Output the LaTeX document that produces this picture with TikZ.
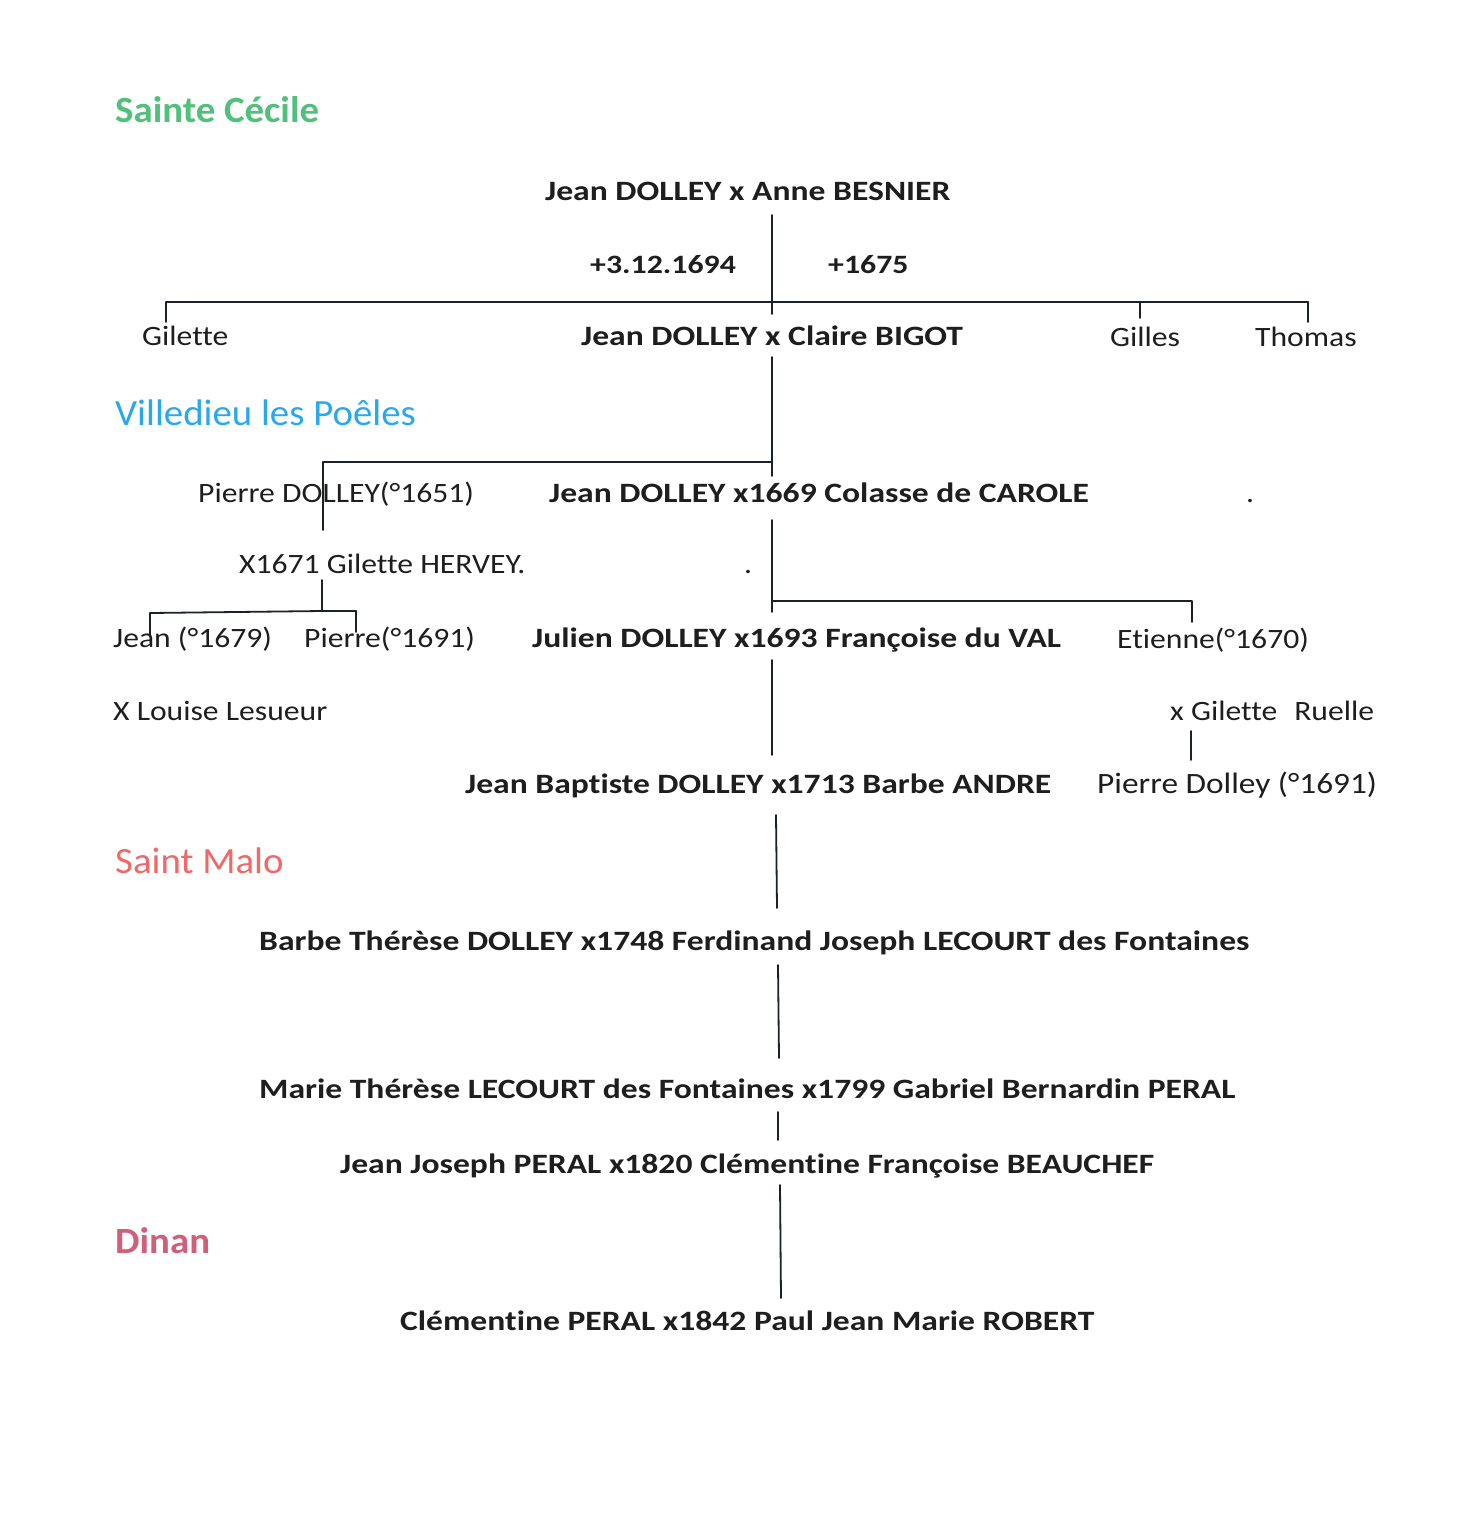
\documentclass[tikz,border=0pt]{standalone}
\usepackage{fontspec}
\setmainfont{Carlito}[FakeStretch=1.13, Ligatures=NoCommon]
\newfontfamily\couplefont{Carlito}[FakeStretch=1.2, Ligatures=NoCommon]
\newfontfamily\placefont{Carlito}[FakeStretch=1.05, Ligatures=NoCommon]
\usetikzlibrary{positioning,calc}
\definecolor{inkline}{RGB}{28,32,44}
\definecolor{inktext}{RGB}{30,30,30}
\definecolor{placegreen}{RGB}{80,192,122}
\definecolor{placeblue}{RGB}{42,168,236}
\definecolor{placered}{RGB}{240,104,104}
\definecolor{placepink}{RGB}{208,96,122}

\begin{document}
\begin{tikzpicture}[x=1pt, y=-1pt,
  person/.style={anchor=base west, inner sep=0pt, text=inktext, font=\fontsize{28}{33}\selectfont},
  couple/.style={person, font=\couplefont\fontsize{28}{33}\selectfont\bfseries},
  death/.style={person, font=\couplefont\fontsize{26.5}{31}\selectfont\bfseries},
  place/.style={anchor=base west, inner sep=0pt, font=\placefont\fontsize{37}{42}\selectfont},
  link/.style={draw=inkline, line width=1.8pt, line cap=round, line join=round},
  tick/.style={link, line width=1.5pt}]
\useasboundingbox (0,0) rectangle (1476,1527);

% places
\node[place, text=placegreen, font=\placefont\fontsize{37}{42}\selectfont\bfseries] (pSC) at (115,122) {Sainte Cécile};
\node[place, text=placeblue] (pVP) at (115,425) {Villedieu les Poêles};
\node[place, text=placered] (pSM) at (115,873) {Saint Malo};
\node[place, text=placepink, font=\placefont\fontsize{37}{42}\selectfont\bfseries] (pDI) at (115,1253) {Dinan};

% generation 1
\node[couple] (c1) at (545,200) {Jean DOLLEY x Anne BESNIER};
\node[death] (d1) at (590,273) {+3.12.1694};
\node[death] (d2) at (828,273) {+1675};
\coordinate (j1) at (772,302);

% generation 2
\node[person] (gil) at (142,345) {Gilette};
\node[couple] (c2) at (581,345) {Jean DOLLEY x Claire BIGOT};
\node[person] (gis) at (1110,346) {Gilles};
\node[person] (tho) at (1255,346) {Thomas};
\draw[link] (772,215) -- (j1);
\draw[link] (166,302) -- (j1) -- (1308,302);
\draw[tick] (166,302) -- (166,322);
\draw[tick] (1140,302) -- (1140,318);
\draw[tick] (1308,302) -- (1308,322);
\draw[tick] (j1) -- (772,314);

% generation 3
\coordinate (j2) at (772,462);
\node[person] (pie) at (198,502) {Pierre DOLLEY(°1651)};
\node[couple] (c3) at (549,502) {Jean DOLLEY x1669 Colasse de CAROLE};
\node[person] (pieX) at (239,573) {X1671 Gilette HERVEY.};
\node[person] (dot1) at (1246,502) {.};
\node[person] (dot2) at (744,573) {.};
\draw[link] (772,357) -- (j2) -- (323,462) -- (323,530);
\draw[tick] (j2) -- (772,476);

% generation 4
\coordinate (j3) at (772,601);
\coordinate (j4) at (322,611);
\node[person] (jea) at (113,647) {Jean (°1679)};
\node[person] (pi2) at (304,647) {Pierre(°1691)};
\node[couple] (c4) at (532,647) {Julien DOLLEY x1693 Françoise du VAL};
\node[person] (eti) at (1117,648) {Etienne(°1670)};
\node[person] (lou) at (113,720) {X Louise Lesueur};
\node[person] (gru) at (1170,720) {x Gilette\hspace{17pt}Ruelle};
\draw[link] (772,520) -- (j3) -- (1192,601) -- (1192,622);
\draw[tick] (j3) -- (772,612);
\draw[link] (322,580) -- (j4);
\draw[link] (150,613) -- (j4) -- (356,611);
\draw[tick] (150,613) -- (150,636);
\draw[tick] (356,611) -- (356,632);

% generation 5
\node[couple] (c5) at (465,793) {Jean Baptiste DOLLEY x1713 Barbe ANDRE};
\node[person, font=\fontsize{29.5}{34}\selectfont] (pi3) at (1097,793) {Pierre Dolley (°1691)};
\draw[link] (772,660) -- (772,755);
\draw[link] (1191,731) -- (1191,760);

% later generations
\node[couple] (c6) at (259,950) {Barbe Thérèse DOLLEY x1748 Ferdinand Joseph LECOURT des Fontaines};
\node[couple] (c7) at (259,1098) {Marie Thérèse LECOURT des Fontaines x1799 Gabriel Bernardin PERAL};
\node[couple] (c8) at (340,1173) {Jean Joseph PERAL x1820 Clémentine Françoise BEAUCHEF};
\node[couple] (c9) at (400,1330) {Clémentine PERAL x1842 Paul Jean Marie ROBERT};
\draw[link] (776,815) -- (777,908);
\draw[link] (778,965) -- (779,1058);
\draw[link] (778,1112) -- (778,1140);
\draw[link] (780,1185) -- (781,1298);
\end{tikzpicture}
\end{document}
